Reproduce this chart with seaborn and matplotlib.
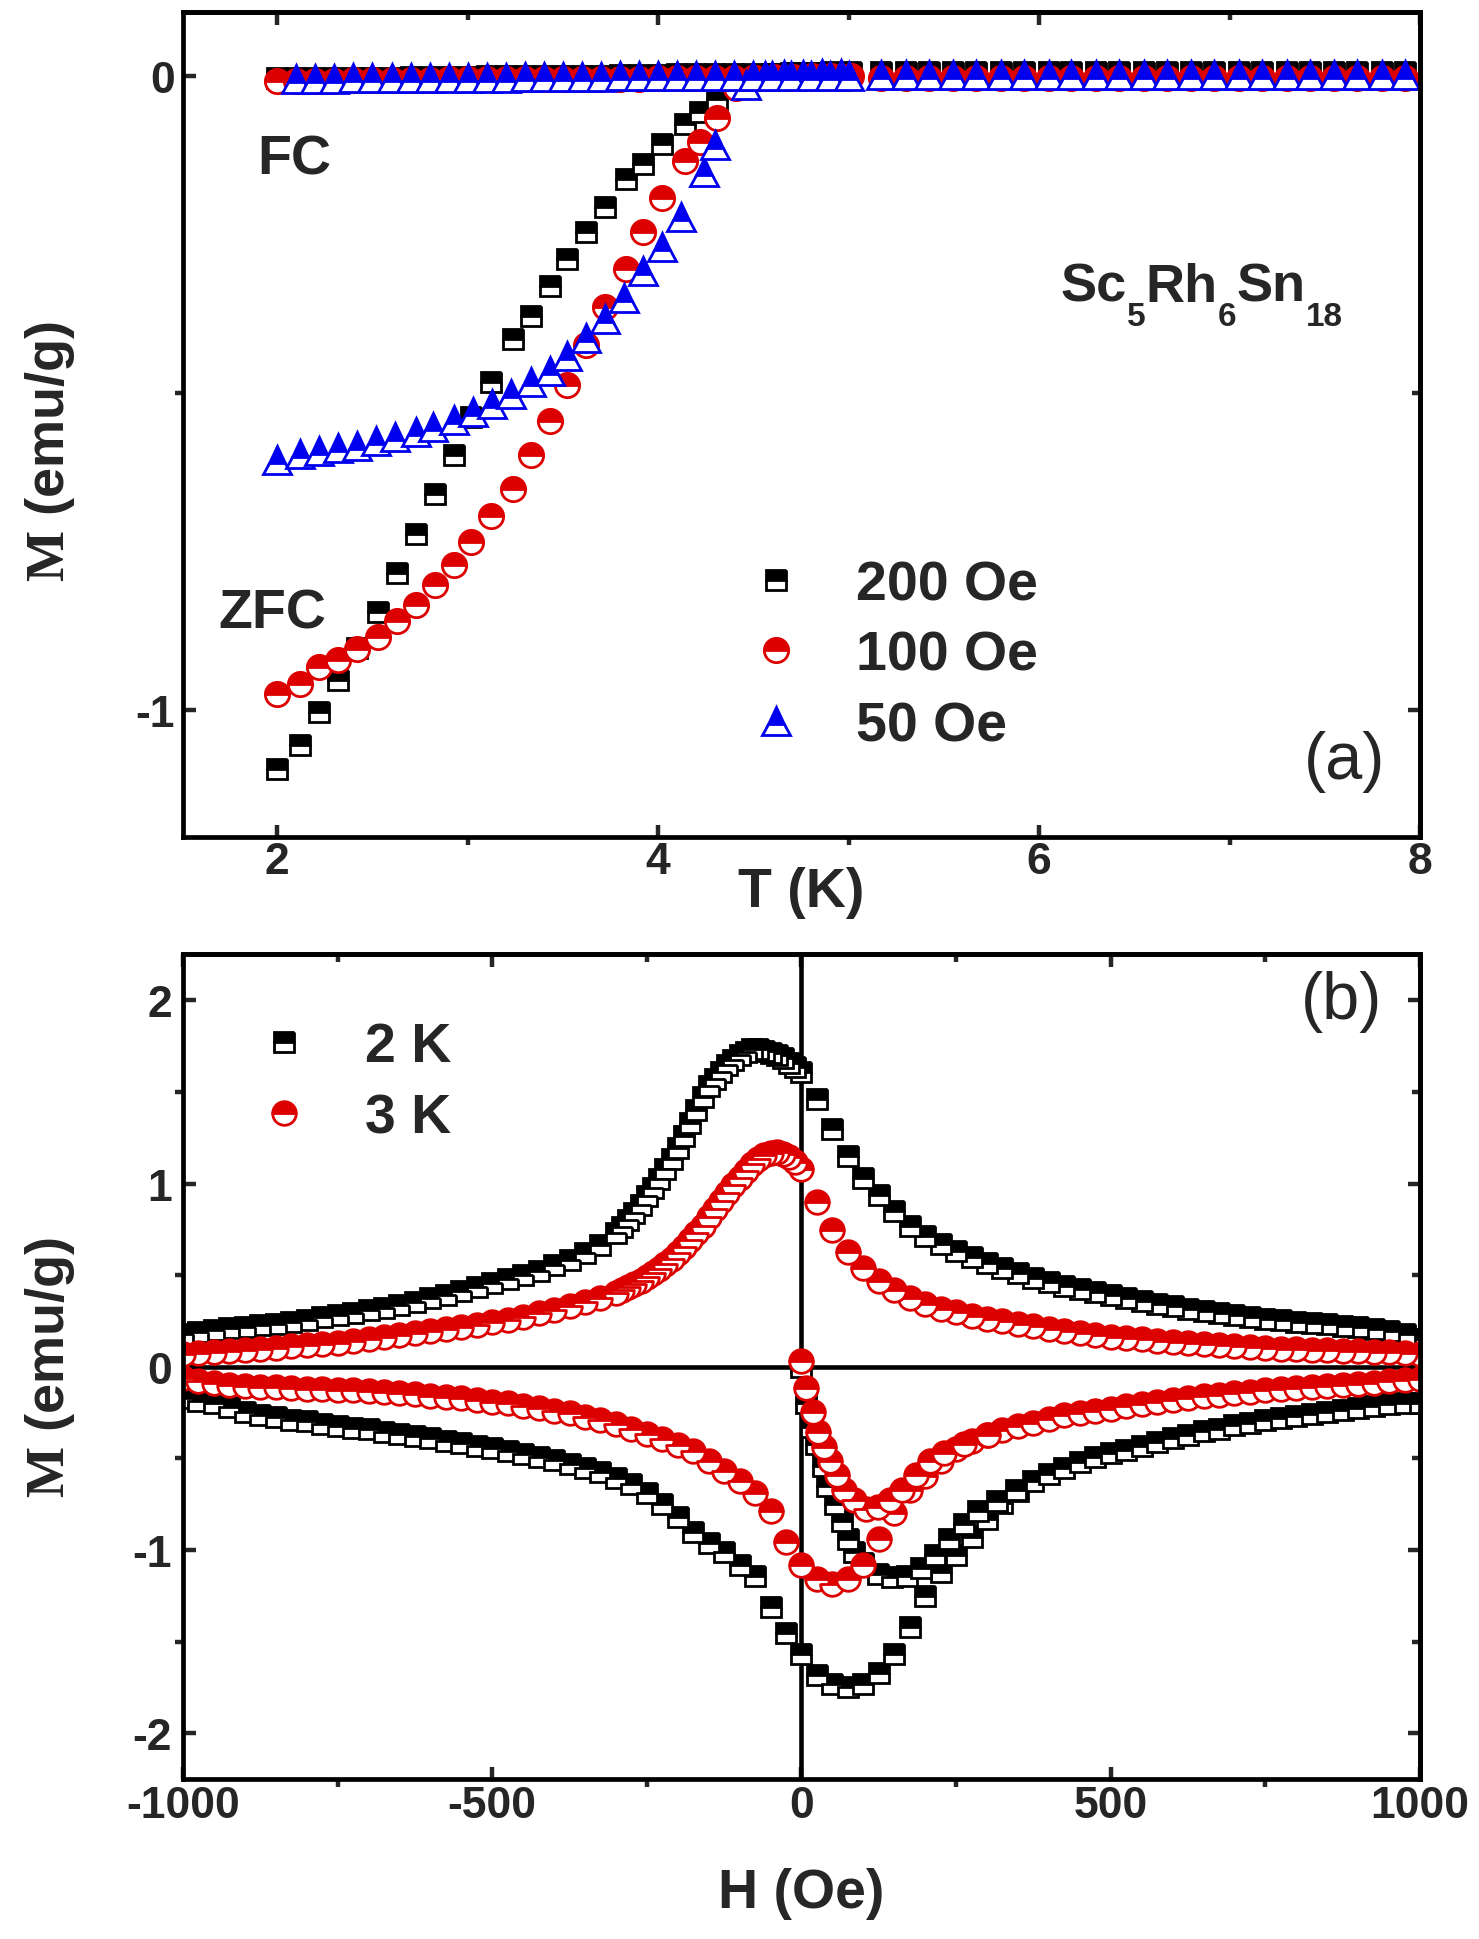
import matplotlib
matplotlib.use('Agg')
import matplotlib.pyplot as plt
import matplotlib.transforms as mtransforms
import seaborn as sns
from matplotlib.lines import Line2D
from matplotlib.ticker import MultipleLocator

# ---------------- panel (a): M(T), ZFC and FC ----------------
T_ZFC = [2.0, 2.12, 2.22, 2.32, 2.42, 2.53, 2.63, 2.73, 2.83, 2.93, 3.02, 3.12, 3.24, 3.33, 3.43, 3.52,
         3.62, 3.72, 3.83, 3.92, 4.02, 4.14, 4.22, 4.31, 4.41, 4.51, 4.61, 4.71, 4.81, 4.91, 5.01]
M_ZFC_200 = [-1.093, -1.055, -1.002, -0.952, -0.901, -0.845, -0.784, -0.722, -0.659, -0.597,
             -0.538, -0.482, -0.415, -0.378, -0.332, -0.289, -0.246, -0.207, -0.163, -0.139,
             -0.108, -0.076, -0.058, -0.037, -0.012, 0.001, 0.003, 0.004, 0.004, 0.005, 0.005]
M_ZFC_100 = [-0.975, -0.958, -0.932, -0.921, -0.903, -0.885, -0.860, -0.834, -0.803, -0.771,
             -0.735, -0.694, -0.651, -0.598, -0.544, -0.487, -0.425, -0.365, -0.304, -0.247,
             -0.193, -0.134, -0.104, -0.067, -0.020, -0.004, -0.002, -0.002, -0.001, -0.001, -0.001]
T_ZFC_50 = [2.0, 2.12, 2.22, 2.32, 2.42, 2.52, 2.62, 2.73, 2.82, 2.93, 3.03, 3.13, 3.23, 3.33, 3.43,
            3.52, 3.62, 3.72, 3.82, 3.92, 4.02, 4.12, 4.24, 4.30, 4.46, 4.56, 4.66, 4.76, 4.86, 4.96]
M_ZFC_50 = [-0.606, -0.596, -0.591, -0.587, -0.583, -0.576, -0.570, -0.562, -0.553, -0.542,
            -0.530, -0.517, -0.501, -0.483, -0.465, -0.442, -0.414, -0.383, -0.350, -0.307,
            -0.270, -0.223, -0.152, -0.110, -0.015, 0.000, 0.001, 0.001, 0.002, 0.002]

T_FC = [2.0, 2.1, 2.2, 2.3, 2.4, 2.5, 2.6, 2.7, 2.8, 2.9, 3.0, 3.1, 3.2, 3.3, 3.4, 3.5, 3.6, 3.7,
        3.8, 3.9, 4.0, 4.1, 4.2, 4.3, 4.4, 4.5, 4.6, 4.7, 4.8, 4.9, 5.0, 5.17, 5.3, 5.42, 5.55,
        5.67, 5.8, 5.92, 6.05, 6.17, 6.3, 6.42, 6.55, 6.67, 6.8, 6.92, 7.05, 7.17, 7.3, 7.42,
        7.55, 7.67, 7.8, 7.92]
M_FC_200 = [-0.004, -0.004, -0.004, -0.003, -0.003, -0.003, -0.003, -0.002, -0.002, -0.002,
            -0.002, -0.001, -0.001, -0.001, -0.001, 0.000, 0.000, 0.000, 0.001, 0.001,
            0.001, 0.002, 0.002, 0.002, 0.003, 0.003, 0.003, 0.004, 0.004, 0.004,
            0.004, 0.005, 0.005, 0.005, 0.005, 0.005, 0.005, 0.005, 0.005, 0.005,
            0.005, 0.005, 0.005, 0.005, 0.005, 0.005, 0.005, 0.005, 0.005, 0.005,
            0.005, 0.005, 0.005, 0.005]
M_FC_100 = [-0.008, -0.008, -0.008, -0.008, -0.007, -0.007, -0.007, -0.007, -0.007, -0.006,
            -0.006, -0.006, -0.006, -0.006, -0.005, -0.005, -0.005, -0.005, -0.005, -0.005,
            -0.004, -0.004, -0.004, -0.004, -0.004, -0.004, -0.004, -0.003, -0.003, -0.003,
            -0.003, -0.003, -0.003, -0.003, -0.003, -0.003, -0.003, -0.003, -0.003, -0.003,
            -0.003, -0.003, -0.003, -0.003, -0.003, -0.003, -0.003, -0.003, -0.003, -0.003,
            -0.003, -0.003, -0.003, -0.003]
T_FC_50 = T_FC[1:]
M_FC_50 = [-0.005, -0.005, -0.005, -0.004, -0.004, -0.004, -0.004, -0.003, -0.003, -0.003,
           -0.003, -0.003, -0.002, -0.002, -0.002, -0.002, -0.002, -0.001, -0.001, -0.001,
           -0.001, -0.001, -0.001, 0.000, 0.000, 0.000, 0.000, 0.000, 0.000, 0.000,
           0.001, 0.001, 0.001, 0.001, 0.001, 0.001, 0.001, 0.001, 0.001, 0.001,
           0.001, 0.001, 0.001, 0.001, 0.001, 0.001, 0.001, 0.001, 0.001, 0.001,
           0.001, 0.001, 0.001]

FIELD_LABELS = ['200 Oe', '100 Oe', '50 Oe']

# ---------------- panel (b): M(H) loops ----------------
# decreasing-field branch (finer field steps between 0 and -300 Oe)
H_DOWN = [1000, 975, 950, 925, 900, 875, 850, 825, 800, 775, 750, 725, 700, 675, 650, 625, 600,
          575, 550, 525, 500, 475, 450, 425, 400, 375, 350, 325, 300, 275, 250, 225, 200, 175,
          150, 125, 100, 75, 50, 25, 0, -10, -20, -30, -40, -50, -60, -70, -80, -90, -100, -110,
          -120, -130, -140, -150, -160, -170, -180, -190, -200, -210, -220, -230, -240, -250,
          -260, -270, -280, -290, -300, -325, -350, -375, -400, -425, -450, -475, -500, -525,
          -550, -575, -600, -625, -650, -675, -700, -725, -750, -775, -800, -825, -850, -875,
          -900, -925, -950, -975, -1000]
M_2K_DOWN = [0.15, 0.178, 0.195, 0.207, 0.216, 0.224, 0.231, 0.238, 0.245, 0.254, 0.263, 0.274,
             0.284, 0.295, 0.306, 0.318, 0.331, 0.344, 0.358, 0.373, 0.39, 0.407, 0.424, 0.443,
             0.465, 0.487, 0.512, 0.538, 0.566, 0.597, 0.632, 0.672, 0.715, 0.77, 0.85, 0.94,
             1.03, 1.15, 1.30, 1.46, 1.61, 1.635, 1.66, 1.685, 1.70, 1.715, 1.725, 1.733, 1.733,
             1.72, 1.70, 1.675, 1.645, 1.61, 1.57, 1.53, 1.47, 1.40, 1.33, 1.26, 1.195, 1.135,
             1.08, 1.025, 0.975, 0.93, 0.885, 0.84, 0.80, 0.765, 0.73, 0.665, 0.62, 0.585, 0.553,
             0.524, 0.50, 0.478, 0.457, 0.436, 0.416, 0.394, 0.374, 0.356, 0.338, 0.322, 0.309,
             0.296, 0.284, 0.271, 0.257, 0.245, 0.235, 0.226, 0.218, 0.21, 0.20, 0.19, 0.18]
M_3K_DOWN = [0.07, 0.075, 0.078, 0.081, 0.084, 0.086, 0.089, 0.092, 0.095, 0.099, 0.103, 0.108,
             0.113, 0.118, 0.123, 0.129, 0.135, 0.142, 0.149, 0.157, 0.165, 0.174, 0.184, 0.195,
             0.207, 0.221, 0.234, 0.248, 0.263, 0.279, 0.297, 0.318, 0.345, 0.378, 0.418, 0.468,
             0.537, 0.625, 0.745, 0.90, 1.08, 1.12, 1.145, 1.162, 1.17, 1.168, 1.155, 1.135, 1.105,
             1.07, 1.03, 0.99, 0.95, 0.905, 0.86, 0.815, 0.77, 0.73, 0.69, 0.655, 0.62, 0.59,
             0.56, 0.535, 0.51, 0.49, 0.47, 0.45, 0.435, 0.42, 0.405, 0.378, 0.355, 0.332, 0.311,
             0.291, 0.274, 0.258, 0.243, 0.229, 0.216, 0.204, 0.193, 0.182, 0.171, 0.16, 0.15,
             0.14, 0.132, 0.124, 0.118, 0.112, 0.105, 0.097, 0.092, 0.087, 0.082, 0.075, 0.07]

# increasing-field branch
H_UP = [-1000, -975, -950, -925, -900, -875, -850, -825, -800, -775, -750, -725, -700, -675,
        -650, -625, -600, -575, -550, -525, -500, -475, -450, -425, -400, -375, -350, -325,
        -300, -275, -250, -225, -200, -175, -150, -125, -100, -75, -50, -25, 0, 25, 50, 75,
        100, 125, 150, 175, 200, 225, 250, 275, 300, 325, 350, 375, 400, 425, 450, 475, 500,
        525, 550, 575, 600, 625, 650, 675, 700, 725, 750, 775, 800, 825, 850, 875, 900, 925,
        950, 975, 1000]
M_2K_UP = [-0.17, -0.185, -0.20, -0.22, -0.245, -0.262, -0.275, -0.288, -0.298, -0.31, -0.322,
           -0.332, -0.342, -0.354, -0.366, -0.378, -0.39, -0.404, -0.418, -0.432, -0.446, -0.46,
           -0.476, -0.492, -0.51, -0.53, -0.55, -0.575, -0.605, -0.64, -0.69, -0.75, -0.82, -0.90,
           -0.96, -1.01, -1.08, -1.14, -1.31, -1.455, -1.57, -1.68, -1.73, -1.75, -1.73, -1.67,
           -1.57, -1.42, -1.25, -1.12, -1.03, -0.93, -0.83, -0.745, -0.68, -0.625, -0.585, -0.55,
           -0.518, -0.494, -0.472, -0.452, -0.43, -0.41, -0.39, -0.371, -0.353, -0.337, -0.32,
           -0.306, -0.293, -0.28, -0.268, -0.257, -0.246, -0.235, -0.225, -0.215, -0.203, -0.20,
           -0.20]
M_3K_UP = [-0.06, -0.075, -0.088, -0.098, -0.105, -0.109, -0.112, -0.116, -0.119, -0.122, -0.126,
           -0.129, -0.133, -0.138, -0.144, -0.15, -0.157, -0.164, -0.171, -0.18, -0.19, -0.2,
           -0.212, -0.225, -0.24, -0.255, -0.272, -0.29, -0.312, -0.338, -0.365, -0.395, -0.428,
           -0.462, -0.513, -0.57, -0.625, -0.69, -0.79, -0.957, -1.08, -1.16, -1.187, -1.16, -1.08,
           -0.94, -0.8, -0.67, -0.595, -0.515, -0.45, -0.405, -0.37, -0.345, -0.325, -0.305,
           -0.283, -0.265, -0.252, -0.24, -0.228, -0.215, -0.203, -0.19, -0.18, -0.171, -0.162,
           -0.153, -0.144, -0.135, -0.128, -0.121, -0.115, -0.109, -0.103, -0.097, -0.092, -0.086,
           -0.08, -0.074, -0.068]

# virgin curves
H_VIRGIN_2K = [0, 8, 15, 23, 35, 42, 54, 66, 75, 85, 100, 123, 147, 170, 193, 216, 239, 262, 285, 316, 347]
M_VIRGIN_2K = [0.0, -0.2, -0.33, -0.42, -0.54, -0.65, -0.75, -0.84, -0.94, -1.01, -1.07, -1.13, -1.15,
               -1.14, -1.10, -1.03, -0.94, -0.86, -0.79, -0.73, -0.67]
H_VIRGIN_3K = [0, 8, 19, 27, 37, 46, 58, 69, 85, 104, 123, 143, 162, 185, 208, 231, 262, 301]
M_VIRGIN_3K = [0.03, -0.115, -0.249, -0.354, -0.44, -0.517, -0.593, -0.67, -0.727, -0.775, -0.766,
               -0.727, -0.67, -0.593, -0.517, -0.469, -0.421, -0.373]

TEMP_LABELS = ['2 K', '3 K']

BLACK, RED, BLUE = '#000000', '#DD0000', '#0000EE'

sns.set_style('ticks')
plt.rcParams['axes.linewidth'] = 3.4
plt.rcParams['axes.edgecolor'] = 'black'
plt.rcParams['font.family'] = ['Liberation Sans', 'DejaVu Sans']
plt.rcParams['font.weight'] = 'bold'
plt.rcParams['axes.labelweight'] = 'bold'
plt.rcParams['axes.unicode_minus'] = False
plt.rcParams['mathtext.fontset'] = 'custom'
plt.rcParams['mathtext.rm'] = 'Liberation Serif'
plt.rcParams['mathtext.bf'] = 'Liberation Sans:bold'

def mstyle(marker, color, size):
    return dict(marker=marker, ls='none', ms=size, fillstyle='top', markerfacecolor=color,
                markerfacecoloralt='white', markeredgecolor=color, markeredgewidth=2.0, color=color)

STY_SQ = mstyle('s', BLACK, 14.5)
STY_CI = mstyle('o', RED, 17.5)
STY_TR = mstyle('^', BLUE, 19.5)

def scatter(ax, x, y, sty):
    sns.lineplot(x=x, y=y, ax=ax, sort=False, estimator=None, legend=False, **sty)

def style_axes(ax, xmaj, xmin, ymaj, ymin, pad_x, pad_y):
    for axis, maj, mnr in [(ax.xaxis, xmaj, xmin), (ax.yaxis, ymaj, ymin)]:
        axis.set_major_locator(MultipleLocator(maj))
        axis.set_minor_locator(MultipleLocator(mnr))
    ax.tick_params(which='major', direction='in', length=9, width=3.2, labelsize=32, top=False, right=False)
    ax.tick_params(which='minor', direction='out', length=5.5, width=3.2, top=False, right=False)
    ax.tick_params(axis='x', pad=pad_x)
    ax.tick_params(axis='y', pad=pad_y)
    sx = ax.secondary_xaxis('top')
    sx.xaxis.set_major_locator(MultipleLocator(xmaj))
    sx.xaxis.set_minor_locator(MultipleLocator(xmin))
    sx.tick_params(which='major', direction='in', length=9, width=3.2, labeltop=False)
    sx.tick_params(which='minor', direction='in', length=6, width=3.2)
    sy = ax.secondary_yaxis('right')
    sy.yaxis.set_major_locator(MultipleLocator(ymaj))
    sy.yaxis.set_minor_locator(MultipleLocator(ymin))
    sy.tick_params(which='major', direction='in', length=9, width=3.2, labelright=False)
    sy.tick_params(which='minor', direction='in', length=6, width=3.2)
    for lab in ax.get_xticklabels() + ax.get_yticklabels():
        lab.set_fontweight('bold')

def formula(ax, x, y, parts, size_main=39, size_sub=24, drop=17):
    # draw a chemical formula piece by piece so subscripts sit well below the baseline
    fig = ax.figure
    renderer = fig.canvas.get_renderer()
    for txt, sub in parts:
        trans = mtransforms.offset_copy(ax.transAxes, fig=fig, y=-drop, units='points') if sub else ax.transAxes
        t = ax.text(x, y, txt, transform=trans, fontsize=size_sub if sub else size_main,
                    fontweight='bold', ha='left', va='baseline')
        bb = t.get_window_extent(renderer)
        x = ax.transAxes.inverted().transform((bb.x1, bb.y0))[0]

fig = plt.figure(figsize=(14.79, 19.40), dpi=100)
ax1 = fig.add_axes([0.1237, 0.5679, 0.8364, 0.4253])
ax2 = fig.add_axes([0.1237, 0.0825, 0.8364, 0.4253])

# ---- (a) ----
scatter(ax1, T_ZFC, M_ZFC_200, STY_SQ)
scatter(ax1, T_FC, M_FC_200, STY_SQ)
scatter(ax1, T_ZFC, M_ZFC_100, STY_CI)
scatter(ax1, T_FC, M_FC_100, STY_CI)
scatter(ax1, T_ZFC_50, M_ZFC_50, STY_TR)
scatter(ax1, T_FC_50, M_FC_50, STY_TR)
ax1.set_xlim(1.505, 8.0)
ax1.set_ylim(-1.2, 0.1)
style_axes(ax1, 2, 1, 1, 0.5, 3, 6)
ax1.set_xlabel('T (K)', fontsize=40, fontweight='bold', va='center')
ax1.xaxis.set_label_coords(0.5, -0.066)
ax1.set_ylabel(r'$\mathrm{M}$ (emu/g)', fontsize=39, fontweight='bold', va='center')
ax1.yaxis.set_label_coords(-0.1075, 0.469)

handles = [Line2D([], [], **STY_SQ), Line2D([], [], **STY_CI), Line2D([], [], **STY_TR)]
ax1.legend(handles, FIELD_LABELS, loc='center left', bbox_to_anchor=(0.4566, 0.220), frameon=False,
           prop=dict(size=40, weight='bold'), handlelength=1.0, handletextpad=0.95,
           labelspacing=0.33, borderpad=0, borderaxespad=0)
ax1.text(0.0901, 0.822, 'FC', transform=ax1.transAxes, fontsize=40, fontweight='bold', ha='center', va='center')
ax1.text(0.072, 0.2707, 'ZFC', transform=ax1.transAxes, fontsize=40, fontweight='bold', ha='center', va='center')
formula(ax1, 0.7095, 0.650, [('Sc', False), ('5', True), ('Rh', False), ('6', True), ('Sn', False), ('18', True)])
ax1.text(0.939, 0.092, '(a)', transform=ax1.transAxes, fontsize=48, fontweight='normal', ha='center', va='center')

# ---- (b) ----
ax2.axhline(0, color='black', lw=3.3, zorder=1.5)
ax2.axvline(0, color='black', lw=3.3, zorder=1.5)
scatter(ax2, H_DOWN, M_2K_DOWN, dict(STY_SQ, ms=14))
scatter(ax2, H_UP, M_2K_UP, dict(STY_SQ, ms=14))
scatter(ax2, H_VIRGIN_2K, M_VIRGIN_2K, dict(STY_SQ, ms=14))
scatter(ax2, H_DOWN, M_3K_DOWN, dict(STY_CI, ms=17))
scatter(ax2, H_UP, M_3K_UP, dict(STY_CI, ms=17))
scatter(ax2, H_VIRGIN_3K, M_VIRGIN_3K, dict(STY_CI, ms=17))
ax2.set_xlim(-1000, 1000)
ax2.set_ylim(-2.25, 2.254)
style_axes(ax2, 500, 250, 1, 0.5, 4, 8)
ax2.set_xlabel('H (Oe)', fontsize=40, fontweight='bold', va='center')
ax2.xaxis.set_label_coords(0.5, -0.138)
ax2.set_ylabel(r'$\mathrm{M}$ (emu/g)', fontsize=39, fontweight='bold', va='center')
ax2.yaxis.set_label_coords(-0.1075, 0.5)

handles = [Line2D([], [], **dict(STY_SQ, ms=14)), Line2D([], [], **dict(STY_CI, ms=17))]
ax2.legend(handles, TEMP_LABELS, loc='center left', bbox_to_anchor=(0.0592, 0.8435), frameon=False,
           prop=dict(size=40, weight='bold'), handlelength=1.0, handletextpad=0.95,
           labelspacing=0.35, borderpad=0, borderaxespad=0)
ax2.text(0.937, 0.943, '(b)', transform=ax2.transAxes, fontsize=48, fontweight='normal', ha='center', va='center')

fig.savefig('out.png', dpi=100)
